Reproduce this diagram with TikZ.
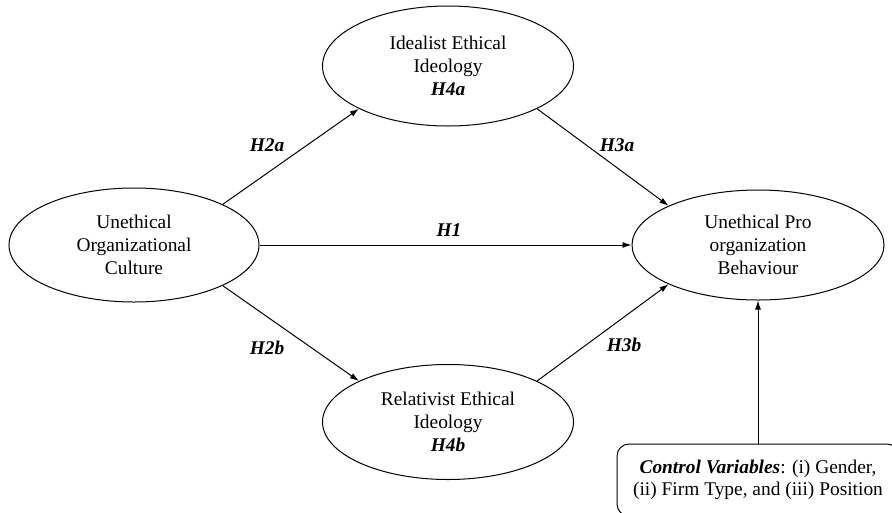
\documentclass[tikz,border=0pt]{standalone}
\usepackage{fontspec}
\setmainfont{Liberation Serif}
\usetikzlibrary{shapes.geometric,arrows.meta}

\begin{document}
\begin{tikzpicture}[x=1pt,y=-1pt,>={Latex[length=9pt,width=6pt]},
    construct/.style={draw,ellipse,line width=1pt,inner sep=0pt,align=center,
      font=\fontsize{19.4}{23}\selectfont},
    hyp/.style={font=\fontsize{19.4}{23}\selectfont\bfseries\itshape},
    ctrlbox/.style={draw,line width=1pt,rounded corners=12pt,align=center,
      minimum width=282,minimum height=72,font=\fontsize{19.4}{22}\selectfont}]
      \useasboundingbox (0,0) rectangle (892,512);
      \clip (0,0) rectangle (892,512);
      % constructs
      \node[construct,minimum width=250,minimum height=114] (uoc) at (134,245) {Unethical\\Organizational\\Culture};
      \node[construct,minimum width=251,minimum height=120] (iei) at (448,66) {Idealist Ethical\\Ideology\\\textbf{\textit{H4a}}};
      \node[construct,minimum width=251,minimum height=115] (rei) at (448,422) {Relativist Ethical\\Ideology\\\textbf{\textit{H4b}}};
      \node[construct,minimum width=252,minimum height=110] (upb) at (758,245) {Unethical Pro\\organization\\Behaviour};
      \node[ctrlbox] (ctrl) at (758,480) {\textbf{\textit{Control Variables}}: (i) Gender,\\(ii) Firm Type, and (iii) Position};
      % paths
      \draw[line width=1pt,->] (uoc.east) -- (upb.west);
      \draw[line width=1pt,->] (uoc.north east) -- (iei.south west);
      \draw[line width=1pt,->] (iei.south east) -- (upb.north west);
      \draw[line width=1pt,->] (uoc.south east) -- (rei.north west);
      \draw[line width=1pt,->] (rei.north east) -- (upb.south west);
      \draw[line width=1pt,->] (ctrl.north) -- (upb.south);
      % hypotheses
      \node[hyp] (h1) at (449,230) {H1};
      \node[hyp] (h2a) at (267,145) {H2a};
      \node[hyp] (h3a) at (617,145) {H3a};
      \node[hyp] (h2b) at (267,348) {H2b};
      \node[hyp] (h3b) at (624,345) {H3b};
    \end{tikzpicture}
\end{document}
